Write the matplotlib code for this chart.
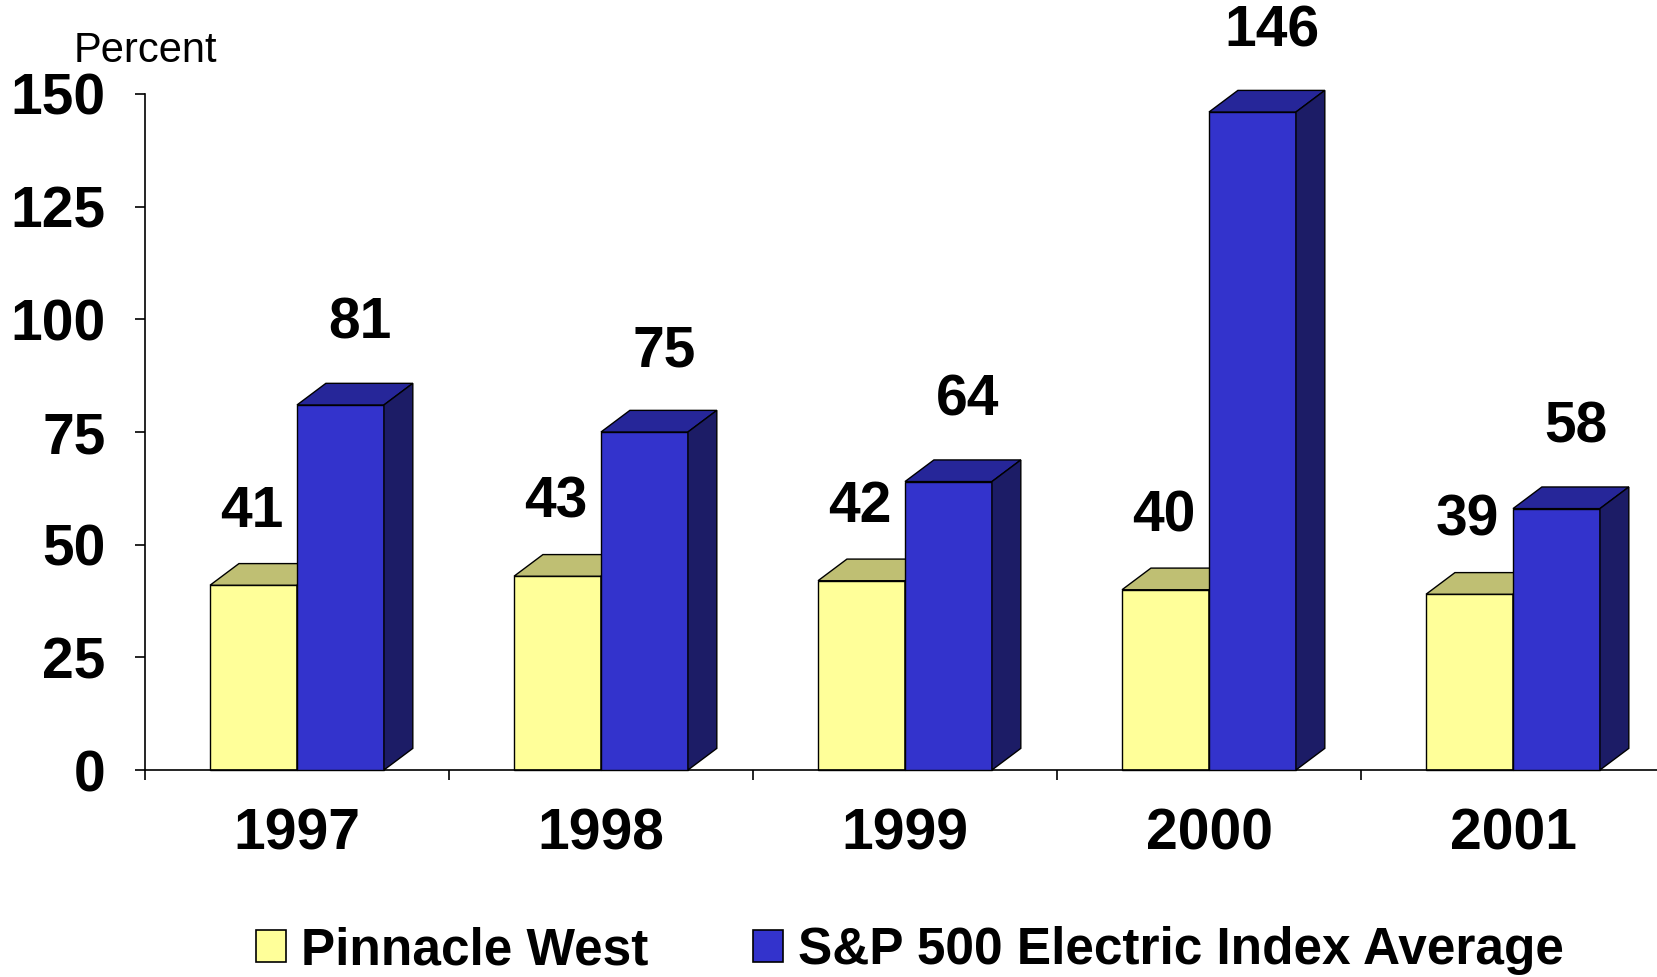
import matplotlib
matplotlib.use("Agg")
import matplotlib.pyplot as plt
from matplotlib.patches import Polygon, Patch

plt.rcParams['font.family'] = ['Liberation Sans', 'DejaVu Sans']

years = ['1997', '1998', '1999', '2000', '2001']
pinnacle = [41, 43, 42, 40, 39]
sp500 = [81, 75, 64, 146, 58]
series_names = ['Pinnacle West', 'S&P 500 Electric Index Average']
yticks = [0, 25, 50, 75, 100, 125, 150]

# colours: front, top, side
yellow = ('#FFFF99', '#BFBF73', '#8C8C4D')
blue = ('#3333CC', '#262699', '#1C1C66')

W, H = 1657, 977
fig = plt.figure(figsize=(W / 100, H / 100), dpi=100)
ax = fig.add_axes([145 / W, (H - 770) / H, (W - 145) / W, (770 - 94) / H])

ax.set_xlim(0, (W - 145) / 304)
ax.set_ylim(0, 150)

width = 0.286
dx = 0.095   # depth in x (category units)
dy = 4.8     # depth in y (data units)


def bars3d(xs, vals, cols, z):
    rects = ax.bar(xs, vals, width, color=cols[0], edgecolor='black',
                   linewidth=1.0, zorder=z, clip_on=False)
    for r in rects:
        x0 = r.get_x()
        x1 = x0 + r.get_width()
        h = r.get_height()
        top = Polygon([(x0, h), (x0 + dx, h + dy), (x1 + dx, h + dy), (x1, h)],
                      closed=True, facecolor=cols[1], edgecolor='black',
                      linewidth=1.0, zorder=z, clip_on=False)
        side = Polygon([(x1, 0), (x1 + dx, dy), (x1 + dx, h + dy), (x1, h)],
                       closed=True, facecolor=cols[2], edgecolor='black',
                       linewidth=1.0, zorder=z, clip_on=False)
        ax.add_patch(top)
        ax.add_patch(side)
    return rects


centers = [i + 0.5 for i in range(len(years))]
xs_y = [c - width / 2 for c in centers]
xs_b = [c + width / 2 for c in centers]
bars3d(xs_y, pinnacle, yellow, 2)
bars3d(xs_b, sp500, blue, 3)

for x, v in zip(xs_y, pinnacle):
    ax.annotate(str(v), xy=(x, v), xytext=(-1.5, 42), textcoords='offset points',
                ha='center', va='baseline', fontsize=41, fontweight='bold',
                annotation_clip=False)
for x, v in zip(xs_b, sp500):
    ax.annotate(str(v), xy=(x, v), xytext=(14, 47.5), textcoords='offset points',
                ha='center', va='baseline', fontsize=41, fontweight='bold',
                annotation_clip=False)

for s in ['top', 'right']:
    ax.spines[s].set_visible(False)
ax.spines['left'].set_linewidth(1.2)
ax.spines['bottom'].set_linewidth(1.2)

ax.set_yticks(yticks)
ax.set_yticklabels([str(t) for t in yticks], fontsize=41, fontweight='bold')
ax.tick_params(axis='y', length=7.5, width=1.2, pad=21)

ax.set_xticks(range(len(years)))
ax.set_xticklabels([])
ax.set_xticks(centers, minor=True)
ax.set_xticklabels(years, minor=True, fontsize=41, fontweight='bold')
ax.tick_params(axis='x', which='major', length=7.5, width=1.2)
ax.tick_params(axis='x', which='minor', length=0, pad=27)

fig.text(74 / W, (H - 62) / H, 'Percent', fontsize=30, ha='left', va='baseline')

handles = [Patch(facecolor=yellow[0], edgecolor='black', linewidth=1.2),
           Patch(facecolor=blue[0], edgecolor='black', linewidth=1.2)]
fig.legend(handles, series_names, loc='lower left',
           bbox_to_anchor=(256 / W, 0.002), ncol=2, frameon=False,
           prop={'size': 37, 'weight': 'bold'}, handlelength=0.58,
           handleheight=0.58, handletextpad=0.29, columnspacing=2.04,
           borderpad=0, borderaxespad=0)

fig.savefig('out.png', dpi=100)
